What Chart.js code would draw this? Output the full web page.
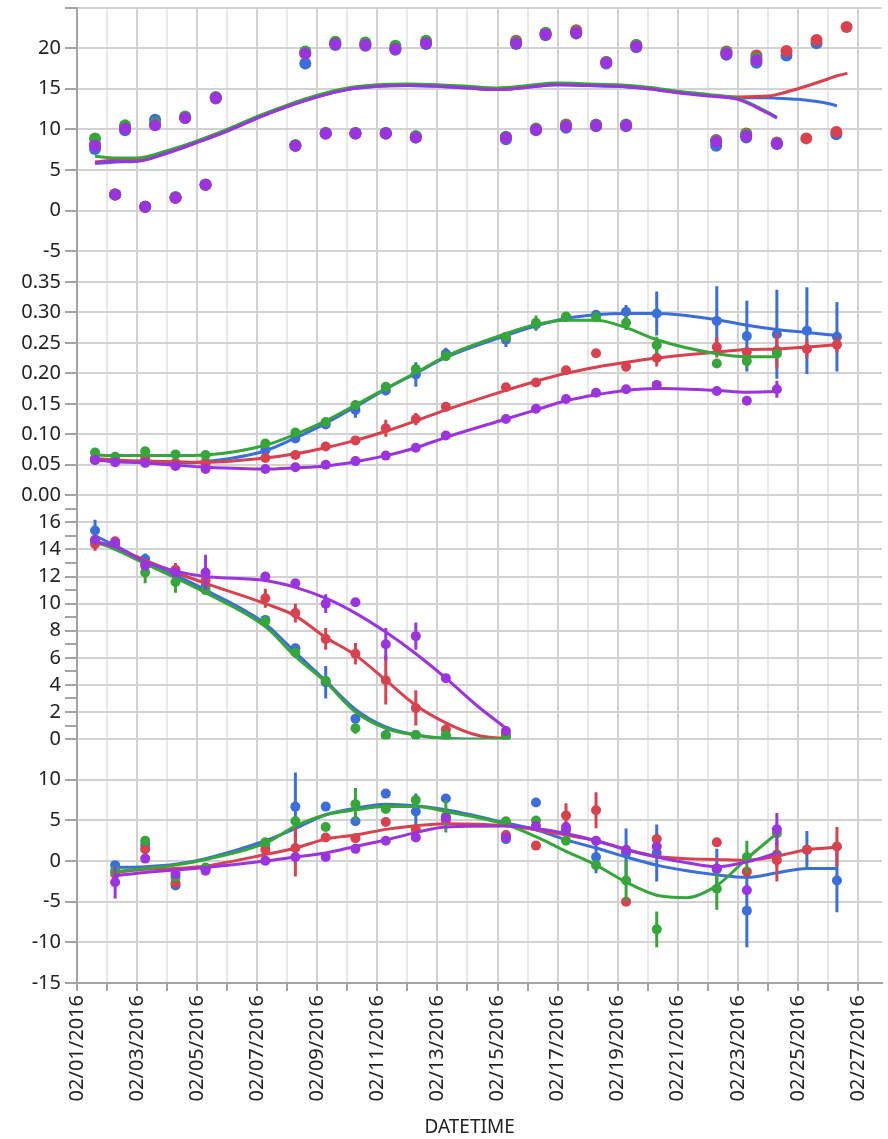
<!DOCTYPE html>
<html>
<head>
<meta charset="utf-8">
<script src="https://cdn.jsdelivr.net/npm/chart.js@4.4.1/dist/chart.umd.min.js"></script>
<style>
  body { margin: 0; background: #fff; }
  #wrap { width: 888px; height: 1139px; }
</style>
</head>
<body>
<div id="wrap"><canvas id="fitChart" width="888" height="1139"></canvas></div>
<script>
// x values are days after 02/01/2016 00:00

// --- panel 1 : daily highs / lows
const tempDays = [0.6, 1.27, 1.6, 2.27, 2.6, 3.28, 3.6, 4.28, 4.62, 7.27, 7.6, 8.28, 8.6, 9.27, 9.6, 10.28, 10.6, 11.28, 11.62,
  14.28, 14.62, 15.28, 15.6, 16.28, 16.62, 17.28, 17.62, 18.28, 18.62, 21.28, 21.62, 22.28, 22.62, 23.3, 23.62, 24.28, 24.62, 25.28, 25.62];
const tempPurple = [8.0, 2.0, 10.1, 0.5, 10.5, 1.6, 11.4, 3.2, 13.9, 8.0, 19.3, 9.5, 20.5, 9.5, 20.4, 9.5, 19.9, 9.0, 20.6,
  9.0, 20.6, 10.0, 21.7, 10.4, 21.9, 10.5, 18.2, 10.5, 20.2, 8.5, 19.3, 9.2, 18.5, 8.25, null, null, null, null, null];
const tempGreen = [8.9, 2.0, 10.5, 0.5, 10.8, 1.7, 11.6, 3.2, 14.0, 8.1, 19.6, 9.6, 20.8, 9.6, 20.7, 9.6, 20.3, 9.2, 20.9,
  9.1, 20.8, 10.1, 21.9, 10.5, 22.0, 10.6, 18.3, 10.6, 20.4, 8.6, 19.5, 9.4, 18.8, 8.3, null, null, null, null, null];
const tempRed = [8.2, 2.0, 10.3, 0.5, 10.6, 1.6, 11.5, 3.2, 13.9, 8.0, 19.4, 9.5, 20.6, 9.5, 20.5, 9.5, 20.0, 9.1, 20.7,
  9.0, 20.9, 10.0, 21.8, 10.6, 22.2, 10.5, 18.3, 10.5, 20.4, 8.7, 19.6, 9.5, 19.1, 8.4, 19.65, 8.9, 21.0, 9.7, 22.6];
const tempBlue = [7.6, 2.0, 9.9, 0.5, 11.2, 1.6, 11.4, 3.2, 13.8, 8.0, 18.1, 9.5, 20.4, 9.5, 20.3, 9.5, 19.8, 9.0, 20.5,
  8.8, 20.5, 9.9, 21.6, 10.2, 21.8, 10.4, 18.1, 10.4, 20.1, 8.0, 19.2, 9.0, 18.2, 8.2, 19.1, null, 20.6, 9.4, null];

const tempFitDays = [0.6, 1.3, 2, 3, 4, 5, 6, 7, 8, 9, 10, 11, 12, 13, 14, 15, 16, 17, 18, 19, 20, 21, 22, 23, 23.3, 24, 25, 25.3, 25.65];
const tempFitPurple = [5.9, 6.1, 6.1, 7.1, 8.4, 9.8, 11.4, 12.8, 14.0, 14.9, 15.3, 15.4, 15.3, 15.1, 14.9, 15.2, 15.5, 15.4, 15.3, 15.0, 14.5, 14.1, 13.7, 12.0, 11.4, null, null, null, null];
const tempFitGreen = [6.7, 6.5, 6.5, 7.4, 8.6, 10.0, 11.6, 13.0, 14.2, 15.1, 15.5, 15.6, 15.5, 15.3, 15.1, 15.4, 15.7, 15.6, 15.5, 15.2, 14.7, 14.3, 13.8, 12.1, 11.5, null, null, null, null];
const tempFitRed = [6.0, 6.2, 6.2, 7.2, 8.5, 9.9, 11.5, 12.9, 14.1, 15.0, 15.4, 15.5, 15.4, 15.2, 15.0, 15.3, 15.6, 15.5, 15.4, 15.1, 14.6, 14.2, 14.0, 14.1, 14.3, 15.0, 16.2, 16.6, 16.9];
const tempFitBlue = [5.8, 6.0, 6.1, 7.1, 8.4, 9.8, 11.4, 12.8, 14.0, 14.9, 15.3, 15.4, 15.3, 15.1, 14.9, 15.2, 15.5, 15.4, 15.3, 15.0, 14.6, 14.2, 13.9, 13.9, 13.85, 13.7, 13.2, 12.9, null];

// --- panels 2-4 share the morning sample days
const sampleDays = [0.6, 1.27, 2.27, 3.28, 4.28, 6.27, 7.27, 8.28, 9.27, 10.28, 11.28, 12.28, 14.28, 15.28, 16.28,
  17.28, 18.28, 19.3, 21.3, 22.3, 23.3, 24.3, 25.3];

// panel 2
const rateBlue = [0.058, 0.057, 0.056, 0.053, 0.054, 0.074, 0.093, 0.116, 0.140, 0.172, 0.198, 0.232, 0.255, 0.280, 0.292, 0.296, 0.301, 0.298, 0.286, 0.261, 0.264, 0.270, 0.260];
const rateRed = [0.060, 0.057, 0.060, 0.053, 0.052, 0.061, 0.066, 0.080, 0.090, 0.110, 0.125, 0.145, 0.177, 0.185, 0.205, 0.233, 0.211, 0.225, 0.243, 0.235, 0.237, 0.240, 0.247];
const rateGreen = [0.070, 0.063, 0.072, 0.067, 0.066, 0.085, 0.103, 0.120, 0.148, 0.178, 0.207, 0.228, 0.260, 0.283, 0.293, 0.292, 0.283, 0.246, 0.216, 0.220, 0.232, null, null];
const ratePurple = [0.058, 0.054, 0.053, 0.048, 0.043, 0.043, 0.046, 0.050, 0.056, 0.065, 0.078, 0.098, 0.125, 0.142, 0.158, 0.168, 0.174, 0.181, 0.171, 0.155, 0.174, null, null];
const rateErrBlue = [0, 0, 0, 0, 0, 0, 0, 0.005, 0.013, 0.008, 0.02, 0.01, 0.012, 0.01, 0.008, 0.008, 0.011, 0.036, 0.057, 0.058, 0.073, 0.071, 0.057];
const rateErrRed = [0, 0, 0, 0, 0, 0, 0, 0, 0, 0.014, 0.01, 0, 0, 0, 0, 0, 0.008, 0.014, 0.017, 0, 0.029, 0.015, 0.013];
const rateErrGreen = [0, 0, 0, 0, 0, 0, 0, 0, 0, 0, 0, 0, 0, 0.012, 0, 0, 0.012, 0.014, 0, 0.01, 0, null, null];
const rateErrPurple = [0, 0, 0, 0, 0, 0, 0, 0, 0, 0, 0, 0, 0, 0, 0, 0, 0, 0, 0, 0, 0.014, null, null];
const rateFitBlue = [0.058, 0.056, 0.054, 0.053, 0.055, 0.073, 0.094, 0.118, 0.145, 0.174, 0.200, 0.226, 0.262, 0.278, 0.290, 0.296, 0.298, 0.298, 0.288, 0.279, 0.272, 0.267, 0.262];
const rateFitRed = [0.060, 0.058, 0.056, 0.055, 0.054, 0.061, 0.068, 0.078, 0.090, 0.105, 0.122, 0.140, 0.172, 0.187, 0.200, 0.210, 0.218, 0.225, 0.235, 0.239, 0.240, 0.243, 0.247];
const rateFitGreen = [0.066, 0.065, 0.065, 0.065, 0.066, 0.082, 0.100, 0.122, 0.148, 0.175, 0.201, 0.228, 0.265, 0.280, 0.287, 0.287, 0.275, 0.255, 0.232, 0.227, 0.227, null, null];
const rateFitPurple = [0.058, 0.055, 0.053, 0.049, 0.046, 0.043, 0.045, 0.048, 0.055, 0.065, 0.078, 0.095, 0.125, 0.140, 0.155, 0.165, 0.172, 0.175, 0.172, 0.169, 0.170, null, null];

// panel 3 (first 13 sample days)
const levelBlue = [15.4, 14.3, 13.3, 12.2, 11.3, 8.8, 6.7, 4.2, 1.5, 0.3, 0.3, 0.2, 0.2];
const levelRed = [14.4, 14.6, 12.9, 12.5, 11.7, 10.4, 9.3, 7.4, 6.3, 4.35, 2.3, 0.7, 0.3];
const levelGreen = [14.7, 14.3, 12.3, 11.6, 11.0, 8.7, 6.4, 4.3, 0.8, 0.25, 0.3, 0.3, 0.2];
const levelPurple = [14.7, 14.5, 12.8, 12.3, 12.3, 12.0, 11.5, 10.0, 10.1, 7.0, 7.6, 4.5, 0.6];
const levelErrBlue = [0.8, 0, 0.4, 0, 0, 0, 0.3, 1.2, 0.3, 0, 0, 0, 0];
const levelErrRed = [0.5, 0.3, 0.3, 0.5, 0.4, 0.7, 0.7, 0.8, 0.8, 1.8, 1.3, 0.4, 0];
const levelErrGreen = [0, 0, 0.8, 0.8, 0, 0, 0, 0, 0.4, 0, 0, 0, 0];
const levelErrPurple = [0.3, 0, 0, 0, 1.3, 0, 0, 0.7, 0, 1.2, 1.0, 0, 0];
const levelFitDays = [0.6, 1.27, 2.27, 3.28, 4.28, 6.27, 7.27, 8.28, 9.27, 10.28, 11.28, 12.28, 13.3, 14.4];
const levelFitBlue = [15.0, 14.3, 13.1, 12.1, 11.0, 8.5, 6.4, 4.3, 2.2, 0.9, 0.3, 0.05, 0, 0];
const levelFitRed = [14.5, 14.1, 13.2, 12.3, 11.5, 10.0, 9.1, 7.5, 6.2, 4.35, 2.5, 1.2, 0.3, 0];
const levelFitGreen = [14.6, 14.0, 12.95, 11.9, 10.8, 8.3, 6.1, 4.2, 2.0, 0.8, 0.3, 0.05, 0, 0];
const levelFitPurple = [14.6, 14.2, 13.1, 12.4, 12.0, 11.7, 11.2, 10.4, 9.3, 7.9, 6.3, 4.5, 2.5, 0.6];

// panel 4
const deltaBlue = [null, -0.5, 2.0, -3.0, -0.9, 2.0, 6.7, 6.7, 4.9, 8.3, 6.1, 7.7, 2.7, 7.2, 3.8, 0.5, 1.0, 1.0, -1.0, -6.1, 0.8, 1.4, -2.4];
const deltaRed = [null, -1.6, 1.45, -2.7, -1.0, 1.4, 1.6, 2.9, 2.8, 4.8, 3.9, 5.0, 3.2, 1.9, 5.6, 6.25, -5.0, 2.7, 2.3, -1.3, 0.1, 1.4, 1.8];
const deltaGreen = [null, -1.2, 2.5, -2.0, -0.8, 2.3, 4.9, 4.2, 7.0, 6.4, 7.5, 5.5, 4.9, 5.0, 2.5, -0.5, -2.4, -8.4, -3.4, 0.5, 3.4, null, null];
const deltaPurple = [null, -2.6, 0.3, -1.6, -1.2, 0.05, 0.5, 0.5, 1.5, 2.5, 2.9, 5.3, 2.9, 4.3, 4.2, 2.5, 1.4, 1.8, -0.9, -3.6, 3.9, null, null];
const deltaErrBlue = [0, 0.4, 0, 0, 0, 0, 4.2, 0, 0, 0, 2.2, 0, 0, 0, 0, 2.0, 3.0, 3.5, 2.5, 4.5, 1.5, 2.3, 3.9];
const deltaErrRed = [0, 0, 0, 0, 0, 0, 3.5, 0, 0, 0, 0, 0, 0, 0, 1.5, 2.2, 0, 0, 0, 0, 2.6, 0, 2.4];
const deltaErrGreen = [0, 0, 0, 0, 0, 0, 0, 0, 2.0, 0, 0, 2.0, 0, 0, 0, 0, 2.5, 2.2, 2.6, 2.0, 0, null, null];
const deltaErrPurple = [0, 2.0, 0, 0, 0, 0, 0, 0, 0, 0, 0, 0, 0, 0, 0, 0, 0, 0, 0, 0, 2.0, null, null];
const deltaFitDays = [1.27, 2.27, 3.28, 4.28, 6.27, 7.27, 8.28, 9.27, 10.28, 11.28, 12.28, 14.28, 15.28, 16.28, 17.28, 18.28, 19.3, 20.3, 21.3, 22.3, 23.3, 24.3, 25.3];
const deltaFitBlue = [-0.8, -0.7, -0.4, 0.3, 2.5, 4.0, 5.7, 6.5, 7.0, 6.8, 6.3, 4.7, 3.85, 2.6, 1.6, 0.5, -0.5, -1.2, -1.7, -2.0, -1.45, -0.9, -0.9];
const deltaFitRed = [-1.4, -1.0, -0.9, -0.6, 0.8, 1.6, 2.7, 3.2, 3.9, 4.35, 4.6, 4.35, 3.85, 3.2, 2.5, 1.45, 0.6, 0.3, 0.2, 0.1, 0.6, 1.4, 1.7];
const deltaFitGreen = [-1.3, -0.9, -0.5, 0.2, 2.2, 4.3, 5.7, 6.3, 6.7, 6.7, 6.1, 4.5, 3.0, 1.2, -0.5, -2.6, -4.2, -4.5, -3.0, 0.3, 3.4, null, null];
const deltaFitPurple = [-1.8, -1.4, -1.1, -0.8, 0.0, 0.5, 1.0, 1.8, 2.6, 3.5, 4.2, 4.3, 4.0, 3.4, 2.5, 1.4, 0.5, -0.2, -0.7, -0.1, 1.0, null, null];

const BLUE = '#3b6edb', RED = '#d8414e', GREEN = '#36a63b', PURPLE = '#9b34de';
const FONT = "'Noto Sans', sans-serif";
const GRID = '#d2d2d2', GRID_MINOR = '#e8e8e8', AXIS = '#a4a4a4', TEXT = '#222';

function pts(days, vals) {
    const out = [];
    days.forEach((d, i) => {
        if (vals[i] != null) out.push({x: d, y: vals[i]});
    });
    return out;
}

// error bars: two points per bar, broken by a null
function bars(days, vals, errs) {
    const out = [];
    days.forEach((d, i) => {
        if (vals[i] == null || !errs[i]) return;
        out.push({x: d, y: vals[i] - errs[i]}, {x: d, y: vals[i] + errs[i]}, {x: d, y: null});
    });
    return out;
}

const datasets = [];

function addSeries(axis, color, days, vals, errs, fitDays, fit, radius) {
    datasets.push({
        yAxisID: axis, data: pts(days, vals), showLine: false,
        pointRadius: radius, pointHoverRadius: radius, pointBorderWidth: 0, backgroundColor: color
    });
    if (errs) {
        datasets.push({
            yAxisID: axis, data: bars(days, vals, errs), showLine: true, spanGaps: false,
            borderColor: color, borderWidth: 3, pointRadius: 0
        });
    }
    datasets.push({
        yAxisID: axis, data: pts(fitDays, fit), showLine: true,
        borderColor: color, borderWidth: 3, pointRadius: 0, cubicInterpolationMode: 'monotone'
    });
}

// purple first so it is drawn on top
addSeries('y1', PURPLE, tempDays, tempPurple, null, tempFitDays, tempFitPurple, 6);
addSeries('y1', GREEN, tempDays, tempGreen, null, tempFitDays, tempFitGreen, 6);
addSeries('y1', RED, tempDays, tempRed, null, tempFitDays, tempFitRed, 6);
addSeries('y1', BLUE, tempDays, tempBlue, null, tempFitDays, tempFitBlue, 6);

addSeries('y2', PURPLE, sampleDays, ratePurple, rateErrPurple, sampleDays, rateFitPurple, 5);
addSeries('y2', GREEN, sampleDays, rateGreen, rateErrGreen, sampleDays, rateFitGreen, 5);
addSeries('y2', RED, sampleDays, rateRed, rateErrRed, sampleDays, rateFitRed, 5);
addSeries('y2', BLUE, sampleDays, rateBlue, rateErrBlue, sampleDays, rateFitBlue, 5);

addSeries('y3', PURPLE, sampleDays, levelPurple, levelErrPurple, levelFitDays, levelFitPurple, 5);
addSeries('y3', GREEN, sampleDays, levelGreen, levelErrGreen, levelFitDays, levelFitGreen, 5);
addSeries('y3', RED, sampleDays, levelRed, levelErrRed, levelFitDays, levelFitRed, 5);
addSeries('y3', BLUE, sampleDays, levelBlue, levelErrBlue, levelFitDays, levelFitBlue, 5);

addSeries('y4', PURPLE, sampleDays, deltaPurple, deltaErrPurple, deltaFitDays, deltaFitPurple, 5);
addSeries('y4', GREEN, sampleDays, deltaGreen, deltaErrGreen, deltaFitDays, deltaFitGreen, 5);
addSeries('y4', RED, sampleDays, deltaRed, deltaErrRed, deltaFitDays, deltaFitRed, 5);
addSeries('y4', BLUE, sampleDays, deltaBlue, deltaErrBlue, deltaFitDays, deltaFitBlue, 5);

function panelAxis(min, max, step, fmt, minorOdd) {
    return {
        type: 'linear', position: 'left', stack: 'panels', stackWeight: 1,
        min: min, max: max,
        afterFit: s => { s.width = 77; },
        border: { color: AXIS, width: 2 },
        grid: {
            color: ctx => (minorOdd && ctx.tick && Math.abs(ctx.tick.value % 2) === 1) ? 'rgba(0,0,0,0)' : GRID,
            lineWidth: 2, tickLength: 12, tickColor: AXIS, tickWidth: 2
        },
        ticks: {
            stepSize: step, padding: 4, color: TEXT, autoSkip: false,
            font: { family: FONT, size: 20, lineHeight: 0.35 },
            callback: v => {
                if (Math.abs(v - max) < 1e-9) return '';
                if (minorOdd && Math.abs(v % 2) === 1) return '';
                return fmt(v);
            }
        }
    };
}

function dayLabel(v) {
    const d = v + 1;
    return '02/' + (d < 10 ? '0' + d : d) + '/2016';
}

new Chart(document.getElementById('fitChart'), {
    type: 'scatter',
    data: { datasets: datasets },
    options: {
        responsive: false,
        animation: false,
        devicePixelRatio: 1,
        layout: { padding: 0 },
        plugins: { legend: { display: false }, tooltip: { enabled: false } },
        scales: {
            x: {
                type: 'linear', min: 0, max: 26.8,
                afterFit: s => { s.height = 156; },
                border: { color: AXIS, width: 2 },
                grid: {
                    color: ctx => (ctx.tick && ctx.tick.value % 2 === 0) ? GRID : GRID_MINOR,
                    lineWidth: 2, tickLength: 8, tickColor: AXIS, tickWidth: 2
                },
                ticks: {
                    stepSize: 1, includeBounds: false, autoSkip: false,
                    minRotation: 90, maxRotation: 90, padding: 4, color: TEXT,
                    font: { family: FONT, size: 20 },
                    callback: v => (v % 2 === 0 ? dayLabel(v) : '')
                },
                title: {
                    display: true, text: 'DATETIME    ', color: TEXT,
                    font: { family: FONT, size: 19 }, padding: { top: 0, bottom: 0 }
                }
            },
            // declared bottom-up: the last one sits on top of the stack
            y4: panelAxis(-15, 15, 5, v => String(v), false),
            y3: panelAxis(0, 18, 1, v => String(v), true),
            y2: panelAxis(0, 0.4, 0.05, v => v.toFixed(2), false),
            y1: panelAxis(-5, 25, 5, v => String(v), false)
        }
    }
});
</script>
</body>
</html>
